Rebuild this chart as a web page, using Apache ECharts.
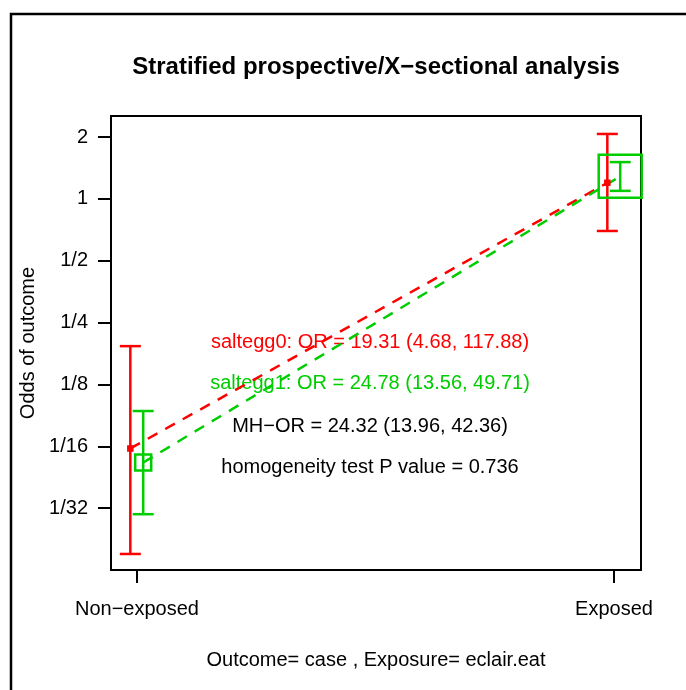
<!DOCTYPE html>
<html>
<head>
<meta charset="utf-8">
<title>Stratified prospective/X−sectional analysis</title>
<script src="https://cdn.jsdelivr.net/npm/echarts@6/dist/echarts.min.js"></script>
<style>
  html, body { margin: 0; padding: 0; background: #fff; }
  #chart { width: 686px; height: 690px; }
</style>
</head>
<body>
<div id="chart"></div>
<script>
// 数据
var groups = ['Non−exposed', 'Exposed'];
var groupX = [1, 2];
var strata = ['saltegg0', 'saltegg1'];

// saltegg0 (red)
var odds0 = [0.061, 1.197];
var lower0 = [0.0187, 0.698];
var upper0 = [0.192, 2.07];
// saltegg1 (green)
var odds1 = [0.0521, 1.287];
var lower1 = [0.0292, 1.094];
var upper1 = [0.0928, 1.51];

var tickValues = [1 / 32, 1 / 16, 1 / 8, 1 / 4, 1 / 2, 1, 2];
var tickLabels = ['1/32', '1/16', '1/8', '1/4', '1/2', '1', '2'];

var noteLines = [
    'saltegg0: OR = 19.31 (4.68, 117.88)',
    'saltegg1: OR = 24.78 (13.56, 49.71)',
    'MH−OR = 24.32 (13.96, 42.36)',
    'homogeneity test P value = 0.736'
];

// 样式
var FONT = '"Liberation Sans", Arial, sans-serif';
var RED = '#ff0000', GREEN = '#00cd00';
var colors = [RED, GREEN];
var shift = [-0.014, 0.013];          // 分层在x方向的偏移
var boxSizes = [[4, 4], [16, 43]];    // 方块大小

var log2 = function (v) { return Math.log(v) / Math.LN2; };
var yTicks = tickValues.map(log2);

function stratumSeries(k, odds, lower, upper) {
    var pts = odds.map(function (o, i) { return [groupX[i] + shift[k], log2(o)]; });
    var bars = odds.map(function (o, i) { return [groupX[i] + shift[k], log2(lower[i]), log2(upper[i])]; });
    var c = colors[k];
    return [
        {
            name: strata[k] + ' line',
            type: 'line',
            data: pts,
            showSymbol: false,
            silent: true,
            z: 3,
            lineStyle: { color: c, width: 2.5, type: [11, 9] }
        },
        {
            name: strata[k] + ' ci',
            type: 'custom',
            data: bars,
            z: 4,
            renderItem: function (params, api) {
                var lo = api.coord([api.value(0), api.value(1)]);
                var hi = api.coord([api.value(0), api.value(2)]);
                var w = 10.5;
                var st = { stroke: c, lineWidth: 2.5 };
                return {
                    type: 'group',
                    children: [
                        { type: 'line', shape: { x1: lo[0], y1: lo[1], x2: hi[0], y2: hi[1] }, style: st },
                        { type: 'line', shape: { x1: lo[0] - w, y1: lo[1], x2: lo[0] + w, y2: lo[1] }, style: st },
                        { type: 'line', shape: { x1: hi[0] - w, y1: hi[1], x2: hi[0] + w, y2: hi[1] }, style: st }
                    ]
                };
            }
        },
        {
            name: strata[k],
            type: 'scatter',
            data: pts,
            symbol: 'rect',
            symbolSize: function (v, p) { return boxSizes[k][p.dataIndex]; },
            clip: false,
            z: 5,
            itemStyle: { color: k === 0 ? c : 'rgba(0,0,0,0)', borderColor: c, borderWidth: 2.5, opacity: 1 }
        }
    ];
}

var chart = echarts.init(document.getElementById('chart'), null, { renderer: 'canvas' });

var option = {
    backgroundColor: '#ffffff',
    animation: false,
    textStyle: { fontFamily: FONT },
    grid: {
        left: 111, top: 116, width: 530, height: 454,
        show: true, borderColor: '#000', borderWidth: 2,
        containLabel: false
    },
    xAxis: {
        type: 'value',
        min: 0.9455,
        max: 2.0566,
        axisLine: { show: false, onZero: false },
        splitLine: { show: false },
        axisTick: { show: true, customValues: groupX, length: 13, lineStyle: { color: '#000', width: 2 } },
        axisLabel: {
            customValues: groupX,
            formatter: function (v) { return groups[groupX.indexOf(v)] || ''; },
            fontSize: 20, color: '#000', margin: 29, fontFamily: FONT
        },
        name: 'Outcome= case , Exposure= eclair.eat',
        nameLocation: 'middle',
        nameGap: 80,
        nameTextStyle: { fontSize: 20, color: '#000', fontFamily: FONT }
    },
    yAxis: {
        type: 'value',
        min: -6.0,
        max: 1.34,
        axisLine: { show: false, onZero: false },
        splitLine: { show: false },
        axisTick: { show: true, customValues: yTicks, length: 13, lineStyle: { color: '#000', width: 2 } },
        axisLabel: {
            customValues: yTicks,
            formatter: function (v) {
                for (var i = 0; i < yTicks.length; i++) {
                    if (Math.abs(yTicks[i] - v) < 1e-6) return tickLabels[i];
                }
                return '';
            },
            fontSize: 20, color: '#000', margin: 23, fontFamily: FONT
        },
        name: 'Odds of outcome',
        nameLocation: 'middle',
        nameRotate: 90,
        nameGap: 73,
        nameTextStyle: { fontSize: 20, color: '#000', fontFamily: FONT }
    },
    graphic: [
        {
            type: 'rect', z: -10, silent: true,
            shape: { x: 11, y: 14, width: 700, height: 700 },
            style: { fill: 'none', stroke: '#000', lineWidth: 2.5 }
        },
        {
            type: 'text', silent: true,
            x: 376, y: 67,
            style: {
                text: 'Stratified prospective/X−sectional analysis',
                x: 0, y: 0,
                textAlign: 'center', textVerticalAlign: 'middle',
                font: 'bold 24px ' + FONT, fill: '#000'
            }
        }
    ].concat(noteLines.map(function (t, i) {
        var ys = [342, 383, 426, 467];
        var fills = [RED, GREEN, '#000', '#000'];
        return {
            type: 'text', silent: true, z: 1,
            x: 370, y: ys[i],
            style: {
                text: t, x: 0, y: 0,
                textAlign: 'center', textVerticalAlign: 'middle',
                font: '20px ' + FONT, fill: fills[i]
            }
        };
    })),
    series: []
        .concat(stratumSeries(0, odds0, lower0, upper0))
        .concat(stratumSeries(1, odds1, lower1, upper1))
};

chart.setOption(option);
</script>
</body>
</html>
